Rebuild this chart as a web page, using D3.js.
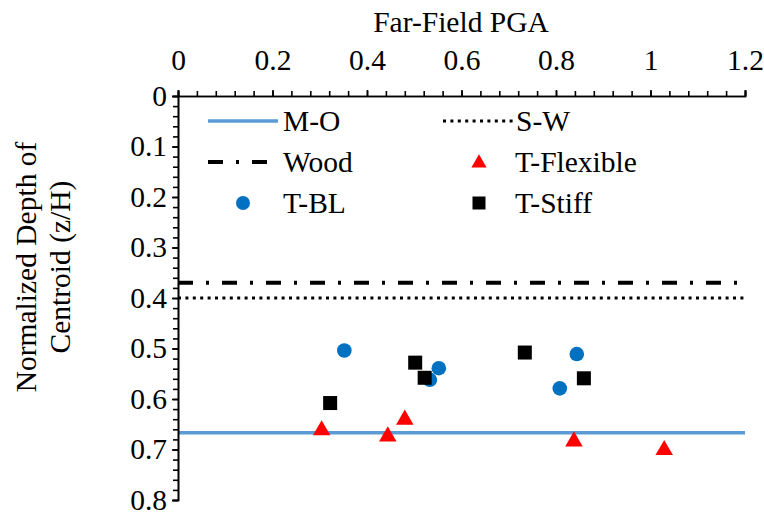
<!DOCTYPE html>
<html>
<head>
<meta charset="utf-8">
<script src="https://cdn.jsdelivr.net/npm/d3@7"></script>
<style>
  html, body { margin: 0; padding: 0; background: #fff; }
</style>
</head>
<body>
<svg id="chart" width="764" height="512"></svg>
<script>
// ---- data ----
const xTicks = [0, 0.2, 0.4, 0.6, 0.8, 1, 1.2];
const yTicks = [0, 0.1, 0.2, 0.3, 0.4, 0.5, 0.6, 0.7, 0.8];
const xTickLabels = ["0", "0.2", "0.4", "0.6", "0.8", "1", "1.2"];
const yTickLabels = ["0", "0.1", "0.2", "0.3", "0.4", "0.5", "0.6", "0.7", "0.8"];

const lineNames = ["M-O", "S-W", "Wood"];
const lineValues = [0.667, 0.4, 0.37];

const tFlexPGA = [0.304, 0.444, 0.480, 0.838, 1.029];
const tFlexDepth = [0.659, 0.671, 0.638, 0.681, 0.698];

const tBLPGA = [0.352, 0.552, 0.533, 0.844, 0.808];
const tBLDepth = [0.504, 0.539, 0.562, 0.511, 0.579];

const tStiffPGA = [0.322, 0.502, 0.522, 0.734, 0.859];
const tStiffDepth = [0.608, 0.528, 0.558, 0.508, 0.559];

// ---- layout ----
const FF = "'Liberation Serif', 'Times New Roman', Times, 'DejaVu Serif', serif";
const svg = d3.select("#chart").attr("font-family", FF);
const L = 178, R = 745, T = 96, B = 500;
const x = d3.scaleLinear().domain([0, 1.2]).range([L, R]);
const y = d3.scaleLinear().domain([0, 0.8]).range([T, B]);
const FONT = 29.5;

// reference lines
const lineStyles = {
  "M-O": { stroke: "#5b9bd5", width: 3.5, dash: null, cap: "butt" },
  "S-W": { stroke: "#000", width: 3, dash: "3,4.4", cap: "butt" },
  "Wood": { stroke: "#000", width: 4, dash: "15,13,3,13", cap: "butt" }
};
lineNames.forEach((n, i) => {
  const s = lineStyles[n];
  svg.append("line")
    .attr("x1", x(0)).attr("x2", x(1.2))
    .attr("y1", y(lineValues[i])).attr("y2", y(lineValues[i]))
    .attr("stroke", s.stroke).attr("stroke-width", s.width)
    .attr("stroke-dasharray", s.dash).attr("stroke-linecap", s.cap);
});

// axes
const xMinor = d3.range(0, 1.2001, 0.04);
const yMinor = d3.range(0, 0.8001, 0.02);
const xAxisMinor = d3.axisTop(x).tickValues(xMinor).tickSize(5).tickFormat("");
const xAxis = d3.axisTop(x).tickValues(xTicks).tickSize(6).tickPadding(20)
  .tickFormat((d, i) => xTickLabels[i]);
const yAxisMinor = d3.axisLeft(y).tickValues(yMinor).tickSize(5).tickFormat("");
const yAxis = d3.axisLeft(y).tickValues(yTicks).tickSize(6).tickPadding(5)
  .tickFormat((d, i) => yTickLabels[i]);

function styleAxis(g) {
  g.attr("font-family", FF).attr("font-size", FONT);
  g.select(".domain").attr("stroke", "#000").attr("stroke-width", 1.6);
  g.selectAll(".tick line").attr("stroke", "#000").attr("stroke-width", 1.6);
  g.selectAll("text").attr("font-size", FONT).attr("font-family", FF).attr("fill", "#000");
}
svg.append("g").attr("transform", `translate(0,${T})`).call(xAxisMinor).call(styleAxis);
svg.append("g").attr("transform", `translate(0,${T})`).call(xAxis).call(styleAxis);
svg.append("g").attr("transform", `translate(${L},0)`).call(yAxisMinor).call(styleAxis);
svg.append("g").attr("transform", `translate(${L},0)`).call(yAxis).call(styleAxis);

// axis titles
svg.append("text").attr("x", 461).attr("y", 32).attr("text-anchor", "middle")
  .attr("font-family", FF).attr("font-size", FONT).text("Far-Field PGA");
const yt = svg.append("text").attr("transform", "translate(0,267) rotate(-90)")
  .attr("text-anchor", "middle").attr("font-family", FF).attr("font-size", FONT);
yt.append("tspan").attr("x", 0).attr("y", 36).text("Normalized Depth of");
yt.append("tspan").attr("x", 0).attr("y", 70).text("Centroid (z/H)");

// markers
const tri = d3.symbol().type(d3.symbolTriangle).size(100);
function drawCircles(px, py) {
  svg.append("g").selectAll("circle").data(px).join("circle")
    .attr("cx", (d) => x(d)).attr("cy", (d, i) => y(py[i])).attr("r", 7.3)
    .attr("fill", "#0070c0");
}
function drawTriangles(px, py) {
  svg.append("g").selectAll("path").data(px).join("path")
    .attr("d", tri)
    .attr("transform", (d, i) => `translate(${x(d)},${y(py[i]) + 1.5}) scale(1.15,1.15)`)
    .attr("fill", "#ff0000");
}
function drawSquares(px, py) {
  svg.append("g").selectAll("rect").data(px).join("rect")
    .attr("x", (d) => x(d) - 7).attr("y", (d, i) => y(py[i]) - 7)
    .attr("width", 14).attr("height", 14).attr("fill", "#000");
}
drawTriangles(tFlexPGA, tFlexDepth);
drawCircles(tBLPGA, tBLDepth);
drawSquares(tStiffPGA, tStiffDepth);

// legend
const lg = svg.append("g");
const rows = [121, 162, 203];
function legLine(x1, x2, yy, s) {
  lg.append("line").attr("x1", x1).attr("x2", x2).attr("y1", yy).attr("y2", yy)
    .attr("stroke", s.stroke).attr("stroke-width", s.width)
    .attr("stroke-dasharray", s.dash).attr("stroke-linecap", s.cap);
}
function legText(tx, yy, t) {
  lg.append("text").attr("x", tx).attr("y", yy + 10).attr("font-family", FF)
    .attr("font-size", FONT).text(t);
}
legLine(208, 278, rows[0], lineStyles["M-O"]); legText(283, rows[0], "M-O");
legLine(443, 513, rows[0], lineStyles["S-W"]); legText(516, rows[0], "S-W");
legLine(208, 278, rows[1], lineStyles["Wood"]); legText(283, rows[1], "Wood");
lg.append("path").attr("d", tri).attr("transform", `translate(479,${rows[1] + 1}) scale(1,1)`).attr("fill", "#ff0000");
legText(515, rows[1], "T-Flexible");
lg.append("circle").attr("cx", 243).attr("cy", rows[2]).attr("r", 7).attr("fill", "#0070c0");
legText(283, rows[2], "T-BL");
lg.append("rect").attr("x", 472.5).attr("y", rows[2] - 6.5).attr("width", 13).attr("height", 13).attr("fill", "#000");
legText(515, rows[2], "T-Stiff");
</script>
</body>
</html>
